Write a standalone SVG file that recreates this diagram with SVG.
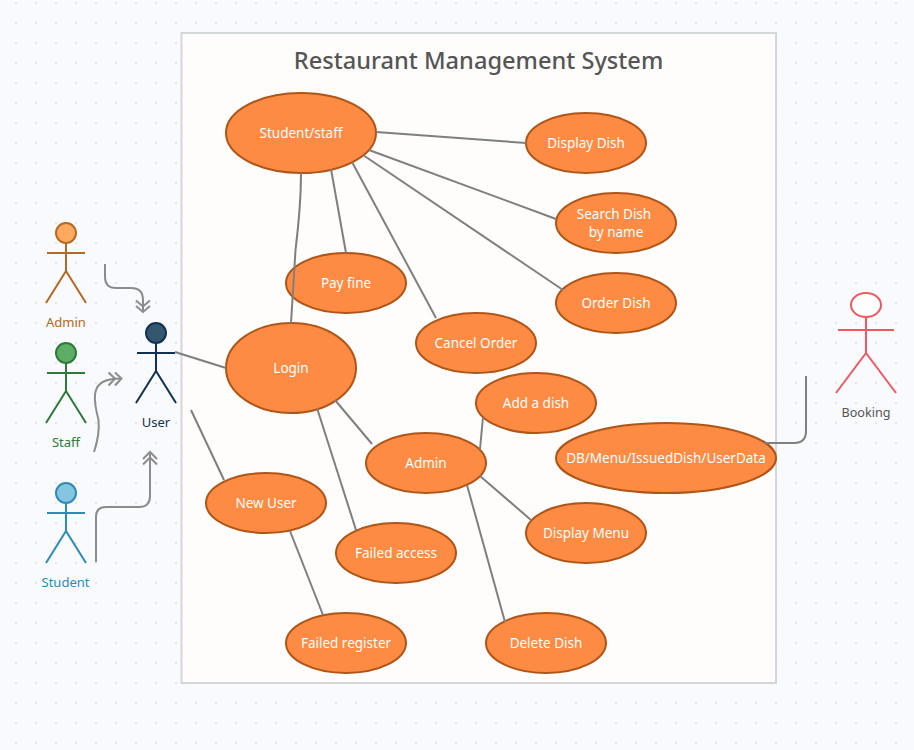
<svg xmlns="http://www.w3.org/2000/svg" width="914" height="750" viewBox="0 0 914 750">
<style>
.uc ellipse{fill:#fe8b43;stroke:#ae5517;stroke-width:2}
.uc text{fill:#fff;font-size:13.500px;text-anchor:middle}
text{font-family:"Noto Sans","Open Sans",sans-serif}
.c path{fill:none;stroke:#7f7f7f;stroke-width:2}
.c .h{stroke:#8c8c8c}
.a{fill:none;stroke-width:2}
.l{font-size:13px;text-anchor:middle}
</style>
<defs>
<pattern id="dots" width="20" height="20" patternUnits="userSpaceOnUse" x="6" y="-7"><circle cx="10" cy="10" r="1.2" fill="#e6e7ea"/></pattern>
</defs>
<rect width="914" height="750" fill="#f9fafd"/>
<rect width="914" height="750" fill="url(#dots)"/>
<rect id="boundary" x="181.500" y="33" width="594.500" height="650" fill="#fefdfc" stroke="#d5d6da" stroke-width="2"/>
<text x="478.500" y="69" font-size="23.600" font-weight="500" fill="#555" text-anchor="middle">Restaurant Management System</text>
<g id="actor-admin" class="a" stroke="#b36a23"><circle cx="66" cy="233" r="10" fill="#ffa95e"/><path d="M66 243V271M47 253H85M66 271L46 303M66 271L86 303"/><text class="l" x="66" y="327" fill="#b36a23" stroke="none">Admin</text></g>
<g id="actor-staff" class="a" stroke="#2f7a39"><circle cx="66" cy="353" r="10" fill="#5dae64"/><path d="M66 363V391M47 373H85M66 391L46 423M66 391L86 423"/><text class="l" x="66" y="447" fill="#2f7a39" stroke="none">Staff</text></g>
<g id="actor-student" class="a" stroke="#2e8bb2"><circle cx="66" cy="493" r="10" fill="#85c5e0"/><path d="M66 503V531M47 513H85M66 531L46 563M66 531L86 563"/><text class="l" x="65.500" y="587" fill="#2e8bb2" stroke="none">Student</text></g>
<g id="actor-user" class="a" stroke="#12334f"><circle cx="156" cy="333" r="10" fill="#34566e"/><path d="M156 343V371M137 353H175M156 371L136 403M156 371L176 403"/><text class="l" x="156" y="427" fill="#12334f" stroke="none">User</text></g>
<g id="actor-booking" class="a" stroke="#f0575f"><ellipse cx="866" cy="305" rx="15" ry="12" fill="#fff"/><path d="M866 317V353M838 330H894M866 353L836 393M866 353L896 393"/><text class="l" x="866" y="417" fill="#555" stroke="none" style="font-size:12.600px">Booking</text></g>
<g id="uc-student" class="uc"><ellipse cx="301" cy="133" rx="75" ry="40"/><text x="301" y="138">Student/staff</text></g>
<g id="uc-display-dish" class="uc"><ellipse cx="586" cy="143" rx="60" ry="30"/><text x="586" y="148">Display Dish</text></g>
<g id="uc-search" class="uc"><ellipse cx="616" cy="223" rx="60" ry="30"/><text x="614" y="219">Search Dish</text><text x="616" y="237">by name</text></g>
<g id="uc-order" class="uc"><ellipse cx="616" cy="303" rx="60" ry="30"/><text x="616" y="308">Order Dish</text></g>
<g id="uc-pay" class="uc"><ellipse cx="346" cy="283" rx="60" ry="30"/><text x="346" y="288">Pay fine</text></g>
<g id="uc-cancel" class="uc"><ellipse cx="476" cy="343" rx="60" ry="30"/><text x="476" y="348">Cancel Order</text></g>
<g id="uc-login" class="uc"><ellipse cx="291" cy="368" rx="65" ry="45"/><text x="291" y="373">Login</text></g>
<g id="uc-add" class="uc"><ellipse cx="536" cy="403" rx="60" ry="30"/><text x="536" y="408">Add a dish</text></g>
<g id="uc-db" class="uc"><ellipse cx="666" cy="458" rx="110" ry="35"/><text x="666" y="463">DB/Menu/IssuedDish/UserData</text></g>
<g id="uc-admin" class="uc"><ellipse cx="426" cy="463" rx="60" ry="30"/><text x="426" y="468">Admin</text></g>
<g id="uc-new" class="uc"><ellipse cx="266" cy="503" rx="60" ry="30"/><text x="266" y="508">New User</text></g>
<g id="uc-display-menu" class="uc"><ellipse cx="586" cy="533" rx="60" ry="30"/><text x="586" y="538">Display Menu</text></g>
<g id="uc-failed-access" class="uc"><ellipse cx="396" cy="553" rx="60" ry="30"/><text x="396" y="558">Failed access</text></g>
<g id="uc-failed-register" class="uc"><ellipse cx="346" cy="643" rx="60" ry="30"/><text x="346" y="648">Failed register</text></g>
<g id="uc-delete" class="uc"><ellipse cx="546" cy="643" rx="60" ry="30"/><text x="546" y="648">Delete Dish</text></g>
<g class="c" id="connectors">
<path d="M376 132L526 143"/>
<path d="M369 150L556 219"/>
<path d="M363 155L563 290"/>
<path d="M352 162L436 318"/>
<path d="M331 169L346 253"/>
<path d="M301 173Q301 205 295.500 250L291 323"/>
<path d="M175 352L226 368"/>
<path d="M191 410L224 480"/>
<path d="M290 531L323 615"/>
<path d="M317 408L356 530"/>
<path d="M335 400L372 444"/>
<path d="M480 449L483 417"/>
<path d="M480 476L531 520"/>
<path d="M467 485L505 622"/>
<path class="h" d="M105 264V277Q105 288 116 288H131Q143 288 143 300V311"/>
<path class="h" d="M136 306L143 312L150 306M136 300.500L143 306.500L150 300.500"/>
<path class="h" d="M94 452Q100 434 98.500 420Q94 402 95 395Q96 381 113 379L120 378.500"/>
<path class="h" d="M108.500 372.500L115 378.500L108.500 385.500M115 372.500L121.500 378.500L115 385.500"/>
<path class="h" d="M96 562V517Q96 507 106 507H139Q150 507 150 496V453"/>
<path class="h" d="M143 459L150 452L157 459M143 464.500L150 457.500L157 464.500"/>
<path d="M765 443H794Q806 443 806 431V376"/>
</g>
</svg>
